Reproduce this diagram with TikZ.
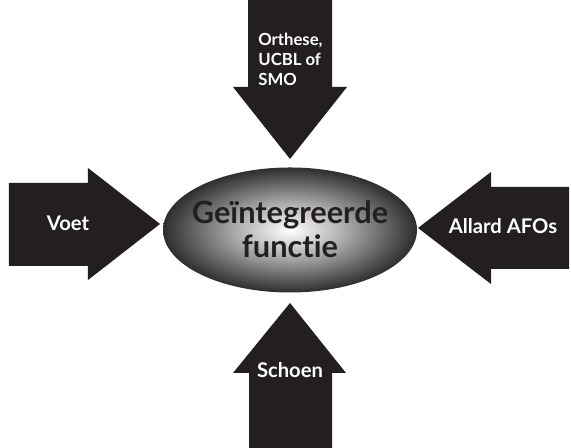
\documentclass[tikz,border=0pt]{standalone}
\usepackage{fontspec}
\setmainfont{Lato}[Ligatures={NoCommon}]
\definecolor{inkblack}{HTML}{231F20}
\pgfdeclareradialshading{hubshade}{\pgfpoint{0bp}{0bp}}{color(0bp)=(white); color(10bp)=(black!30); color(25bp)=(black!82); color(50bp)=(black!82)}
\tikzset{
  arrowfill/.style={fill=inkblack,draw=none},
  arrowlabel/.style={text=white,font=\bfseries\fontsize{11.5}{13}\selectfont,inner sep=0pt},
  hub/.style={shading=hubshade}
}
\begin{document}
\begin{tikzpicture}
\useasboundingbox (0,0) rectangle (11.42,8.96);
% arrows
\fill[arrowfill] (4.96,8.96) -- (6.64,8.96) -- (6.64,7.22) -- (6.94,7.22) -- (5.80,5.78) -- (4.66,7.22) -- (4.96,7.22) -- cycle;
\fill[arrowfill] (4.98,0) -- (6.64,0) -- (6.64,1.50) -- (6.92,1.50) -- (5.80,2.90) -- (4.66,1.50) -- (4.98,1.50) -- cycle;
\fill[arrowfill] (0.18,5.30) -- (1.76,5.30) -- (1.76,5.60) -- (3.20,4.48) -- (1.76,3.36) -- (1.76,3.64) -- (0.18,3.64) -- cycle;
\fill[arrowfill] (11.38,5.22) -- (9.82,5.22) -- (9.82,5.52) -- (8.36,4.40) -- (9.82,3.28) -- (9.82,3.58) -- (11.38,3.58) -- cycle;
% centre
\shade[hub] (5.80,4.36) ellipse (2.54 and 1.25);
\node[text=inkblack,font=\bfseries\fontsize{17.5}{19.5}\selectfont,align=center] (hub) at (5.80,4.38) {Geïntegreerde\\functie};
% labels
\node[arrowlabel,font=\bfseries\fontsize{9.5}{11.3}\selectfont,align=left,anchor=north west] (orthese) at (5.16,8.30) {Orthese,\\UCBL of\\SMO};
\node[arrowlabel] (voet) at (1.36,4.50) {Voet};
\node[arrowlabel] (allard) at (10.06,4.44) {Allard AFOs};
\node[arrowlabel] (schoen) at (5.80,1.56) {Schoen};
\end{tikzpicture}
\end{document}
